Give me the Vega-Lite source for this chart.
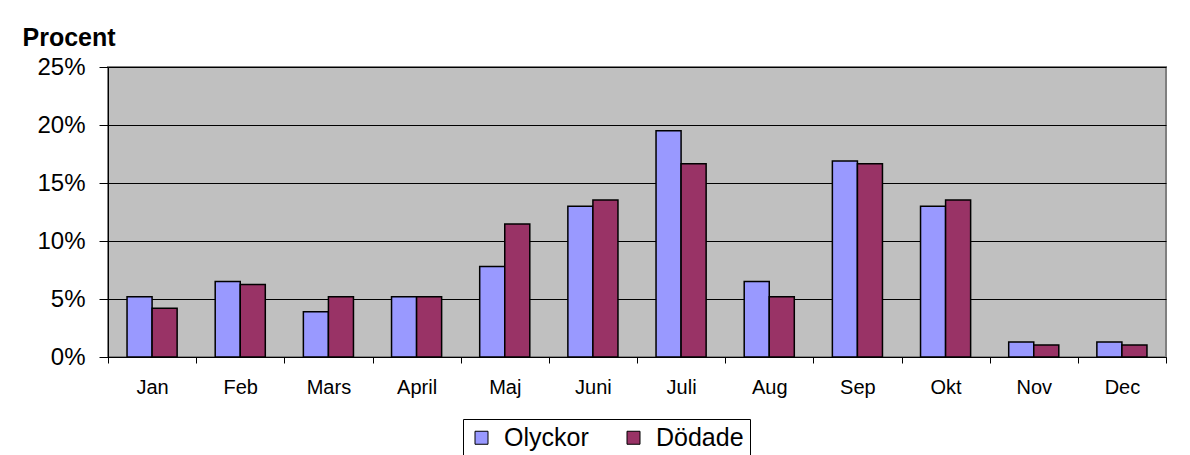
{
  "$schema": "https://vega.github.io/schema/vega-lite/v6.json",
  "width": 1058,
  "height": 290,
  "autosize": {"type": "none"},
  "padding": {"left": 108, "top": 67, "right": 24, "bottom": 98},
  "background": "white",
  "data": {
    "values": [
      {"month": "Jan", "serie": "Olyckor", "andel": 0.052},
      {"month": "Jan", "serie": "Dödade", "andel": 0.042},
      {"month": "Feb", "serie": "Olyckor", "andel": 0.065},
      {"month": "Feb", "serie": "Dödade", "andel": 0.0625},
      {"month": "Mars", "serie": "Olyckor", "andel": 0.039},
      {"month": "Mars", "serie": "Dödade", "andel": 0.052},
      {"month": "April", "serie": "Olyckor", "andel": 0.052},
      {"month": "April", "serie": "Dödade", "andel": 0.052},
      {"month": "Maj", "serie": "Olyckor", "andel": 0.078},
      {"month": "Maj", "serie": "Dödade", "andel": 0.1146},
      {"month": "Juni", "serie": "Olyckor", "andel": 0.13},
      {"month": "Juni", "serie": "Dödade", "andel": 0.1354},
      {"month": "Juli", "serie": "Olyckor", "andel": 0.195},
      {"month": "Juli", "serie": "Dödade", "andel": 0.1667},
      {"month": "Aug", "serie": "Olyckor", "andel": 0.065},
      {"month": "Aug", "serie": "Dödade", "andel": 0.052},
      {"month": "Sep", "serie": "Olyckor", "andel": 0.169},
      {"month": "Sep", "serie": "Dödade", "andel": 0.1667},
      {"month": "Okt", "serie": "Olyckor", "andel": 0.13},
      {"month": "Okt", "serie": "Dödade", "andel": 0.1354},
      {"month": "Nov", "serie": "Olyckor", "andel": 0.013},
      {"month": "Nov", "serie": "Dödade", "andel": 0.0104},
      {"month": "Dec", "serie": "Olyckor", "andel": 0.013},
      {"month": "Dec", "serie": "Dödade", "andel": 0.0104}
    ]
  },
  "mark": {"type": "bar", "stroke": "black", "strokeWidth": 1.5},
  "encoding": {
    "x": {
      "field": "month",
      "type": "nominal",
      "sort": ["Jan", "Feb", "Mars", "April", "Maj", "Juni", "Juli", "Aug", "Sep", "Okt", "Nov", "Dec"],
      "scale": {"paddingInner": 0, "paddingOuter": 0},
      "axis": {
        "title": null,
        "labelAngle": 0,
        "tickBand": "extent",
        "tickSize": 6,
        "labelPadding": 14,
        "labelFontSize": 20,
        "grid": false
      }
    },
    "xOffset": {
      "field": "serie",
      "type": "nominal",
      "sort": ["Olyckor", "Dödade"],
      "scale": {"paddingInner": 0, "paddingOuter": 0.76}
    },
    "y": {
      "field": "andel",
      "type": "quantitative",
      "scale": {"domain": [0, 0.25]},
      "axis": {
        "values": [0, 0.05, 0.1, 0.15, 0.2, 0.25],
        "format": ".0%",
        "title": "Procent",
        "titleAngle": 0,
        "titleX": -86,
        "titleY": -22,
        "titleAlign": "left",
        "titleBaseline": "alphabetic",
        "titleFontSize": 25,
        "titleFontWeight": "bold",
        "labelFontSize": 24,
        "tickSize": 9,
        "labelPadding": 14,
        "grid": true,
        "gridColor": "black",
        "gridWidth": 1,
        "gridOpacity": 1
      }
    },
    "color": {
      "field": "serie",
      "type": "nominal",
      "sort": ["Olyckor", "Dödade"],
      "scale": {"domain": ["Olyckor", "Dödade"], "range": ["#9999FF", "#993366"]},
      "legend": {
        "title": null,
        "orient": "none",
        "legendX": 355,
        "legendY": 352,
        "direction": "horizontal",
        "symbolType": "square",
        "symbolSize": 169,
        "symbolStrokeColor": "black",
        "symbolStrokeWidth": 1,
        "symbolOpacity": 1,
        "labelFontSize": 25,
        "labelColor": "black",
        "labelOffset": 10,
        "columnPadding": 32,
        "strokeColor": "black",
        "fillColor": "white",
        "padding": 6
      }
    }
  },
  "config": {
    "font": "Liberation Sans",
    "view": {"fill": "#C0C0C0", "stroke": "#808080", "strokeWidth": 2},
    "axis": {
      "labelFont": "Liberation Sans",
      "titleFont": "Liberation Sans",
      "labelColor": "black",
      "titleColor": "black",
      "domainColor": "black",
      "tickColor": "black",
      "domainWidth": 1,
      "tickWidth": 1
    },
    "legend": {"labelFont": "Liberation Sans"}
  }
}
